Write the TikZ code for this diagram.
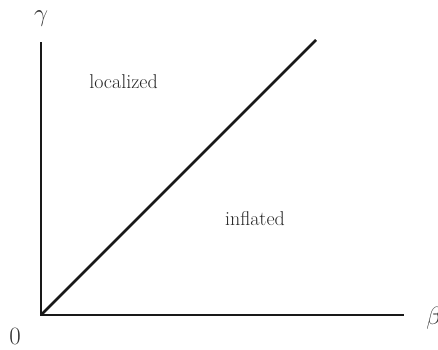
\documentclass[tikz,border=0pt]{standalone}
\begin{document}
\begin{tikzpicture}[x=1pt,y=-1pt,
  axis/.style={line width=2.6pt,black!90},
  biglab/.style={font=\fontsize{25}{30}\selectfont,text=black!80,inner sep=0pt},
  reglab/.style={font=\fontsize{20}{24}\selectfont,text=black!85,inner sep=0pt}]
\useasboundingbox (0,0) rectangle (438,349);
\coordinate (o) at (41,315);
\coordinate (ytop) at (41,42);
\coordinate (xend) at (404,315);
\coordinate (dend) at (316,40);
\draw[axis] (ytop) -- (o) -- (xend);
\draw[axis] (o) -- (dend);
\node[biglab] (g) at (41,19) {$\gamma$};
\node[biglab] (b) at (434,318) {$\beta$};
\node[biglab] (z) at (15,336) {$0$};
\node[reglab] (loc) at (123.5,82) {localized};
\node[reglab] (inf) at (255,219) {inflated};
\end{tikzpicture}
\end{document}
